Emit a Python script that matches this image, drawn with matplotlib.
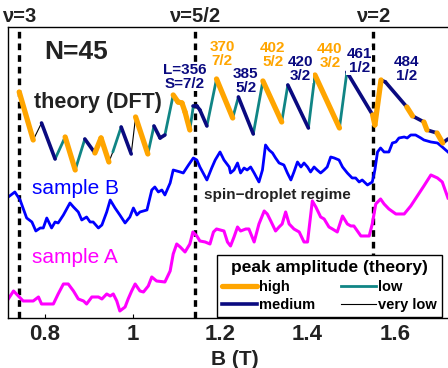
import matplotlib
matplotlib.use('Agg')
import matplotlib.pyplot as plt
from matplotlib.lines import Line2D

plt.rcParams['font.family'] = ['Liberation Sans', 'DejaVu Sans']
plt.rcParams['font.weight'] = 'bold'

# --- data (B in tesla, conductance in arbitrary offset units) ---
sampleB_B = [0.716, 0.731, 0.743, 0.758, 0.770, 0.779, 0.789, 0.796, 0.804, 0.815,
             0.823, 0.830, 0.842, 0.857, 0.865, 0.876, 0.884, 0.895, 0.903, 0.910,
             0.922, 0.930, 0.941, 0.949, 0.960, 0.971, 0.983, 0.994, 1.002, 1.010,
             1.017, 1.033, 1.044, 1.051, 1.059, 1.067, 1.074, 1.086, 1.093, 1.109,
             1.116, 1.128, 1.139, 1.147, 1.154, 1.170, 1.181, 1.189, 1.200, 1.209,
             1.221, 1.224, 1.232, 1.240, 1.247, 1.255, 1.262, 1.270, 1.278, 1.289,
             1.297, 1.304, 1.312, 1.320, 1.327, 1.335, 1.346, 1.354, 1.362, 1.369,
             1.377, 1.385, 1.392, 1.400, 1.407, 1.415, 1.422, 1.430, 1.438, 1.445,
             1.453, 1.461, 1.472, 1.480, 1.491, 1.502, 1.510, 1.518, 1.525, 1.537,
             1.548, 1.554, 1.560, 1.567, 1.575, 1.586, 1.594, 1.602, 1.609, 1.621,
             1.628, 1.636, 1.647, 1.659, 1.666, 1.682, 1.697, 1.708, 1.721]
sampleB_G = [121, 126, 118, 100, 96, 87, 90, 90, 100, 90,
             96, 95, 103, 115, 111, 106, 98, 101, 96, 96,
             90, 93, 106, 118, 110, 103, 95, 101, 110, 103,
             106, 108, 128, 131, 126, 128, 123, 135, 148, 146,
             145, 153, 160, 158, 151, 138, 150, 158, 166, 158,
             151, 145, 148, 155, 145, 150, 148, 151, 145, 136,
             148, 173, 168, 165, 160, 155, 153, 145, 138, 146,
             156, 151, 155, 151, 146, 151, 148, 145, 148, 151,
             161, 160, 158, 151, 145, 140, 140, 136, 138, 133,
             136, 148, 166, 170, 166, 166, 175, 176, 180, 181,
             180, 183, 183, 180, 178, 176, 175, 171, 166]

sampleA_B = [0.716, 0.728, 0.739, 0.750, 0.762, 0.773, 0.785, 0.792, 0.804, 0.819,
             0.830, 0.842, 0.853, 0.865, 0.876, 0.888, 0.895, 0.907, 0.922, 0.930,
             0.941, 0.949, 0.956, 0.964, 0.971, 0.983, 0.990, 0.998, 1.006, 1.017,
             1.025, 1.036, 1.044, 1.055, 1.074, 1.086, 1.093, 1.101, 1.109, 1.120,
             1.131, 1.138, 1.147, 1.154, 1.166, 1.177, 1.185, 1.192, 1.209, 1.217,
             1.224, 1.232, 1.240, 1.247, 1.259, 1.266, 1.278, 1.289, 1.301, 1.308,
             1.316, 1.327, 1.335, 1.342, 1.350, 1.358, 1.369, 1.381, 1.392, 1.400,
             1.411, 1.419, 1.430, 1.438, 1.449, 1.457, 1.468, 1.480, 1.491, 1.499,
             1.506, 1.514, 1.522, 1.533, 1.541, 1.548, 1.556, 1.567, 1.575, 1.586,
             1.602, 1.621, 1.636, 1.651, 1.666, 1.682, 1.697, 1.708, 1.721]
sampleA_G = [19, 27, 22, 17, 17, 17, 21, 14, 14, 14,
             24, 34, 34, 27, 19, 17, 14, 21, 21, 19,
             24, 22, 24, 17, 7, 11, 19, 27, 34, 27,
             26, 32, 41, 37, 36, 47, 64, 74, 71, 66,
             74, 86, 82, 77, 76, 74, 86, 89, 87, 76,
             72, 81, 91, 87, 89, 89, 76, 94, 107, 104,
             97, 87, 91, 94, 106, 94, 89, 86, 76, 76,
             117, 111, 101, 99, 91, 89, 86, 102, 94, 92,
             92, 87, 82, 82, 82, 94, 114, 119, 114, 109,
             104, 104, 112, 122, 132, 143, 140, 136, 120]

# theory (DFT) sawtooth: vertices and amplitude class of each segment
theory_B = [0.741, 0.773, 0.792, 0.823, 0.846, 0.869, 0.891, 0.914, 0.928, 0.946,
            0.955, 0.974, 0.997, 1.007, 1.035, 1.049, 1.063, 1.074, 1.093, 1.104,
            1.113, 1.120, 1.131, 1.139, 1.147, 1.154, 1.170, 1.192, 1.229, 1.242,
            1.276, 1.298, 1.341, 1.355, 1.402, 1.417, 1.473, 1.490, 1.549, 1.554,
            1.568, 1.578, 1.627, 1.640, 1.666, 1.673, 1.696, 1.709, 1.721]
theory_G = [226, 178, 195, 159, 181, 148, 179, 165, 180, 156,
            166, 191, 164, 201, 164, 192, 180, 183, 223, 216,
            215, 206, 188, 212, 212, 208, 192, 239, 200, 221,
            184, 237, 196, 233, 190, 243, 190, 246, 203, 193,
            238, 236, 211, 202, 196, 188, 185, 175, 179]
theory_amp = ['high', 'vlow', 'med', 'low', 'high', 'low', 'med', 'high', 'high', 'vlow',
              'low', 'med', 'vlow', 'high', 'low', 'med', 'med', 'low', 'high', 'high',
              'high', 'high', 'low', 'med', 'med', 'med', 'low', 'high', 'low', 'med',
              'low', 'high', 'low', 'med', 'low', 'high', 'low', 'med', 'high', 'high',
              'med', 'med', 'high', 'med', 'high', 'med', 'high', 'med']

# peak labels (L, S) above the theory curve
peak_L = ['L=356', '370', '385', '402', '420', '440', '461', '484']
peak_S = ['S=7/2', '7/2', '5/2', '5/2', '3/2', '3/2', '1/2', '1/2']
peak_amp = ['med', 'high', 'med', 'high', 'med', 'high', 'med', 'med']
peak_B = [1.120, 1.205, 1.259, 1.321, 1.383, 1.451, 1.518, 1.627]
peak_G = [241, 264, 237, 263, 249, 262, 257, 249]

nu_B = [0.741, 1.143, 1.549]
nu_labels = ['\u03bd=3', '\u03bd=5/2', '\u03bd=2']

ORANGE = '#FFA500'
TEAL = '#108585'
NAVY = '#0A0A80'
styles = {'high': (ORANGE, 3.8, 5),
          'med': (NAVY, 2.6, 4),
          'low': (TEAL, 2.0, 3),
          'vlow': ('black', 0.8, 2)}

fig = plt.figure(figsize=(4.48, 3.68), dpi=100)
ax = fig.add_axes([0.0179, 0.1359, 1.0103, 0.7908])

for b in nu_B:
    ax.axvline(b, color='black', lw=2.4, linestyle=(0, (2.0, 1.5)), zorder=1)

ax.plot(sampleB_B, sampleB_G, color='#0000FF', lw=2.0, zorder=2)
ax.plot(sampleA_B, sampleA_G, color='#FF00FF', lw=2.2, zorder=2)

for i, amp in enumerate(theory_amp):
    c, lw, z = styles[amp]
    ax.plot(theory_B[i:i + 2], theory_G[i:i + 2], color=c, lw=lw, zorder=z,
            solid_capstyle='round')

for L, S, a, b, g in zip(peak_L, peak_S, peak_amp, peak_B, peak_G):
    ax.text(b, g, L + '\n' + S, color=styles[a][0], fontsize=11, ha='center',
            va='center', linespacing=0.95, fontweight='bold', zorder=6,
            bbox=dict(facecolor='white', edgecolor='none', pad=0))

trans = ax.get_xaxis_transform()
for b, lab in zip(nu_B, nu_labels):
    ax.text(b, 1.035, lab, transform=trans, ha='center', va='center',
            fontsize=14.5, color='#222222', clip_on=False)

ax.text(0.871, 266, 'N=45', fontsize=19, ha='center', va='center', color='#222222')
ax.text(0.920, 215, 'theory (DFT)', fontsize=15.5, ha='center', va='center',
        color='#222222')
ax.text(0.770, 129, 'sample B', fontsize=15, ha='left', va='center',
        color='#0000FF', fontweight='normal')
ax.text(0.770, 60, 'sample A', fontsize=15, ha='left', va='center',
        color='#FF00FF', fontweight='normal')
ax.text(1.331, 123, 'spin\u2212droplet regime', fontsize=11, ha='center',
        va='center', color='#222222')

ax.set_xlim(0.7154, 1.75)
ax.set_ylim(0, 291)
ax.set_yticks([])
ax.set_xticks([0.8, 1.0, 1.2, 1.4, 1.6])
ax.set_xticklabels(['0.8', '1', '1.2', '1.4', '1.6'])
ax.tick_params(axis='x', direction='in', length=3, width=0.8, pad=4,
               labelsize=16, labelcolor='#222222')
ax.set_xlabel('B (T)', fontsize=15, fontweight='bold', color='#222222', labelpad=4)
for s in ax.spines.values():
    s.set_linewidth(1.0)

handles = [Line2D([], [], color=ORANGE, lw=3.8, solid_capstyle='round'),
           Line2D([], [], color=NAVY, lw=2.6),
           Line2D([], [], color=TEAL, lw=2.0),
           Line2D([], [], color='black', lw=0.8)]
labels = ['high', 'medium', 'low', 'very low']
leg = ax.legend(handles, labels, ncol=2, loc='lower left',
                bbox_to_anchor=(0.462, 0.003, 0.497, 0.23), mode='expand',
                borderaxespad=0,
                title='peak amplitude (theory)',
                title_fontproperties={'weight': 'bold', 'size': 12.5},
                prop={'weight': 'bold', 'size': 10.5},
                fancybox=False, edgecolor='black', framealpha=1,
                handlelength=2.4, handletextpad=0.15, columnspacing=1.1,
                labelspacing=0.3, borderpad=0.35)
leg.get_frame().set_linewidth(1.0)
leg.set_zorder(10)

fig.savefig('out.png', dpi=100)
